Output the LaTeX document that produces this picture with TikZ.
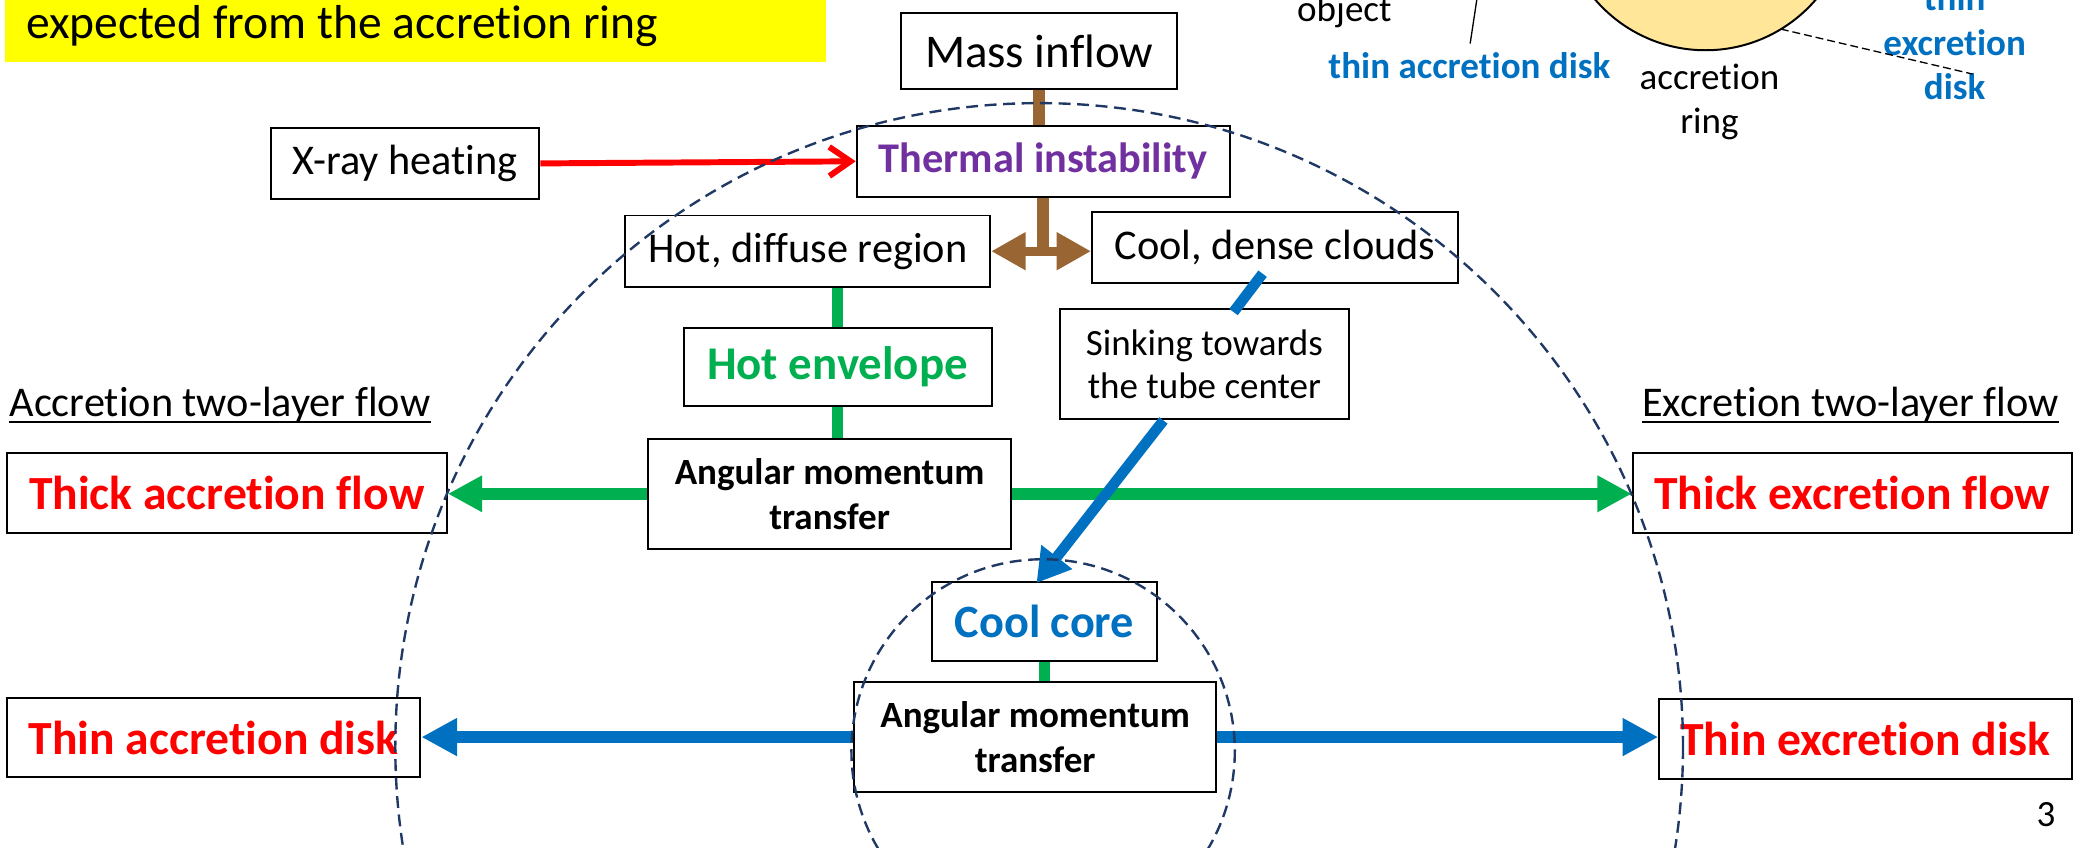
\documentclass[tikz,border=0pt]{standalone}
\usepackage{fontspec}
\setmainfont{Carlito}[Ligatures={NoCommon,NoContextual}]
\usetikzlibrary{arrows.meta,calc}
\definecolor{tgreen}{HTML}{00B050}
\definecolor{tblue}{HTML}{0070C0}
\definecolor{tred}{HTML}{FF0000}
\definecolor{tpurple}{HTML}{7030A0}
\definecolor{tbrown}{HTML}{996633}
\definecolor{tnavy}{HTML}{1F3864}
\definecolor{tyellow}{HTML}{FFFF00}
\definecolor{tring}{HTML}{FFE699}
\begin{document}
\begin{tikzpicture}[x=1pt,y=-1pt,
  box/.style={draw=black,line width=1.5pt,fill=white,inner sep=0pt,align=center},
  lbl/.style={inner sep=0pt},
  regA/.style={font=\fontsize{32}{38}\selectfont},
  regS/.style={font=\fontsize{28}{33}\selectfont},
  bldS/.style={font=\fontsize{28}{34}\selectfont\bfseries},
  bldL/.style={font=\fontsize{36}{43}\selectfont\bfseries},
  bar/.style={line width=#1,line cap=butt},
  greenarr/.style={tgreen,line width=8.8pt,-{Triangle[length=26pt,width=26pt]}},
  bluearr/.style={tblue,line width=8.5pt,-{Triangle[length=27pt,width=27pt]}},
  circ/.style={tnavy,line width=1.8pt,dash pattern=on 9pt off 5pt}
]
\useasboundingbox (0,0) rectangle (1568,641);
\clip (0,0) rectangle (1568,641);

% title strip
\fill[tyellow] (4,-5) rectangle (625,47);
\node[lbl,anchor=base west,font=\fontsize{36}{43}\selectfont] (title) at (19.5,29) {expected from the accretion ring};

% top-right sketch
\filldraw[fill=tring,draw=black,line width=1.5pt] (1290,-72) circle[radius=110];
\node[lbl,regS,anchor=base west] (obj) at (981,16.4) {object};
\coordinate (objl1) at (1117,0);
\coordinate (objl2) at (1112,33);
\draw[line width=1pt] (objl1) -- (objl2);
\node[lbl,bldS,text=tblue,anchor=base west] (tad) at (1004.6,59) {thin accretion disk};
\node[lbl,regS,anchor=base] (ar1) at (1293,68) {accretion};
\node[lbl,regS,anchor=base] (ar2) at (1293,101) {ring};
\node[lbl,bldS,text=tblue,anchor=base] (ted1) at (1478.5,7.6) {thin};
\node[lbl,bldS,text=tblue,anchor=base] (ted2) at (1478.5,41.6) {excretion};
\node[lbl,bldS,text=tblue,anchor=base] (ted3) at (1478.5,75.6) {disk};
\coordinate (ld1) at (1347,22);
\coordinate (ld2) at (1492,56);
\draw[line width=1pt,dash pattern=on 6pt off 3pt] (ld1) -- (ld2);

% boxes
\node[box,font=\fontsize{35.5}{42}\selectfont,minimum width=209pt,minimum height=58pt] (mass) at (786,38.5) {Mass inflow};
\node[box,regA,minimum width=203pt,minimum height=54pt] (xray) at (306.5,123.6) {X-ray heating};
\node[box,font=\fontsize{32}{38}\selectfont\bfseries,text=tpurple,minimum width=282pt,minimum height=54pt] (therm) at (789,122) {Thermal instability};
\node[box,regA,minimum width=276pt,minimum height=54pt] (hot) at (611,190) {Hot, diffuse region};
\node[box,regA,minimum width=277pt,minimum height=54pt] (cool) at (964.5,187) {Cool, dense clouds};
\node[box,font=\fontsize{35.5}{42}\selectfont\bfseries,text=tgreen,minimum width=233pt,minimum height=59pt] (env) at (633.5,277.5) {Hot envelope};
\node[box,regS,minimum width=218pt,minimum height=83pt] (sink) at (911,275.5) {Sinking towards\\the tube center};
\node[box,bldS,minimum width=275pt,minimum height=83pt] (amt1) at (627.5,373.5) {Angular momentum\\transfer};
\node[box,bldL,text=tred,minimum width=333pt,minimum height=60pt] (thickacc) at (171.5,373) {Thick accretion flow};
\node[box,bldL,text=tred,minimum width=332pt,minimum height=60pt] (thickexc) at (1401,373) {Thick excretion flow};
\node[box,font=\fontsize{35}{42}\selectfont\bfseries,text=tblue,minimum width=170pt,minimum height=60pt] (core) at (790,470) {Cool core};
\node[box,bldS,minimum width=274pt,minimum height=83pt] (amt2) at (783,557.5) {Angular momentum\\transfer};
\node[box,bldL,text=tred,minimum width=313pt,minimum height=60pt] (thinacc) at (161.5,558) {Thin accretion disk};
\node[box,bldL,text=tred,minimum width=312pt,minimum height=60pt] (thinexc) at (1411,559) {Thin excretion disk};

% section labels
\node[lbl,regA,anchor=base west] (acclab) at (7,314.7) {Accretion two-layer flow};
\node[lbl,regA,anchor=base west] (exclab) at (1242,314.7) {Excretion two-layer flow};
\draw[line width=1.5pt] ($(acclab.base west)+(0,4.5)$) -- ($(acclab.base east)+(0,4.5)$);
\draw[line width=1.5pt] ($(exclab.base west)+(0,4.5)$) -- ($(exclab.base east)+(0,4.5)$);

% connectors
\draw[red,line width=4.5pt,-{Straight Barb[length=16pt,width=22pt,line width=4.5pt]}] (xray.east) -- (therm.west);
\draw[tbrown,bar=9pt] (mass.south) -- (mass.south |- therm.north);
\draw[tbrown,bar=9.5pt] (therm.south) -- (therm.south |- hot.east);
\draw[tbrown,line width=6.6pt,{Triangle[length=26pt,width=27pt]}-{Triangle[length=26pt,width=27pt]}] (hot.east) -- (hot.east -| cool.west);
\draw[tgreen,bar=8pt] (env.north |- hot.south) -- (env.north);
\draw[tgreen,bar=8pt] (env.south) -- (env.south |- amt1.north);
\draw[greenarr] (amt1.west) -- (amt1.west -| thickacc.east);
\draw[greenarr] (amt1.east) -- (amt1.east -| thickexc.west);
\coordinate (b1) at (955,207);
\coordinate (b2) at (933,236);
\draw[tblue,bar=8pt] (b1) -- (b2);
\coordinate (s1) at (880,318);
\coordinate (s2) at (784,441);
\draw[tblue,line width=8pt,-{Triangle[length=25pt,width=28pt]}] (s1) -- (s2);
\draw[tgreen,bar=8pt] (core.south) -- (core.south |- amt2.north);
\draw[bluearr] (amt2.west) -- (amt2.west -| thinacc.east);
\draw[bluearr] (amt2.east) -- (amt2.east -| thinexc.west);

% dashed circles
\draw[circ] (786,565) circle[radius=487];
\draw[circ] (789,568) circle[radius=145];

% page number
\node[lbl,font=\fontsize{28}{34}\selectfont,anchor=base] (pg) at (1547.5,625.5) {3};
\end{tikzpicture}
\end{document}
